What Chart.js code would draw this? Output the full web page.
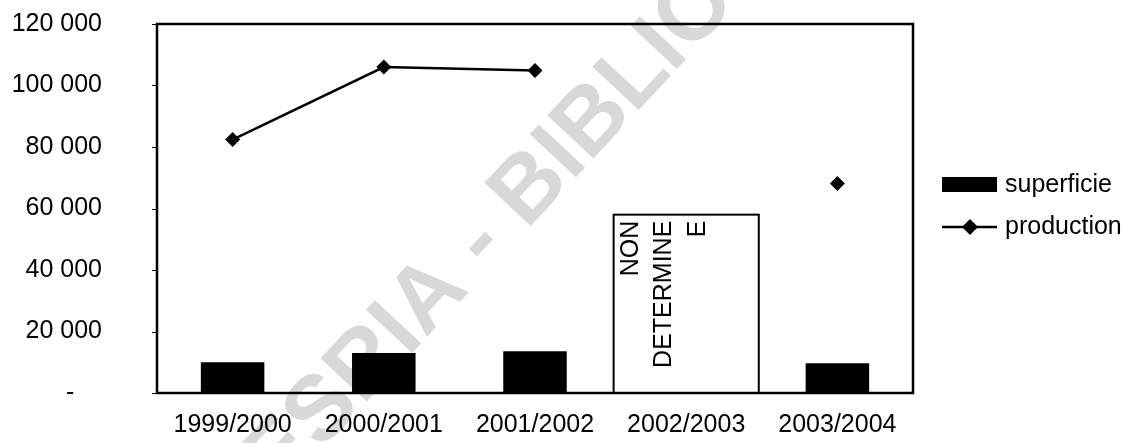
<!DOCTYPE html>
<html>
<head>
<meta charset="utf-8">
<script src="https://cdn.jsdelivr.net/npm/chart.js@4/dist/chart.umd.min.js"></script>
<style>
  html, body { margin: 0; padding: 0; background: #fff; }
  #wrap { width: 1131px; height: 443px; position: relative; }
</style>
</head>
<body>
<div id="wrap"><canvas id="c"></canvas></div>
<script>
// Campagnes agricoles et valeurs par campagne
const campagnes = ['1999/2000', '2000/2001', '2001/2002', '2002/2003', '2003/2004'];
const superficie = [10000, 13000, 13600, null, 9700];
const production = [82400, 106000, 104900, null, 68100];
const yTicks = [0, 20000, 40000, 60000, 80000, 100000, 120000];

// Encadré pour la campagne sans donnée
const noteCampagne = '2002/2003';
const noteLines = ['NON', 'DETERMINE', 'E'];
const noteTop = 58000;

const filigrane = 'CODESRIA - BIBLIOTHEQUE';

const FONT = '"Liberation Sans", Arial, sans-serif';

// format comptable : séparateur d'espace, tiret pour zéro
function fmt(v) {
  if (v === 0) return '-\u00a0\u00a0\u00a0\u00a0';
  return String(v).replace(/\B(?=(\d{3})+(?!\d))/g, ' ');
}

const decor = {
  id: 'decor',
  beforeDraw(chart) {
    const ctx = chart.ctx;
    ctx.save();
    ctx.fillStyle = '#fff';
    ctx.fillRect(0, 0, chart.width, chart.height);
    // filigrane en diagonale
    ctx.font = 'bold 92px ' + FONT;
    ctx.fillStyle = '#d8d8d8';
    ctx.textBaseline = 'middle';
    ctx.textAlign = 'left';
    const dashIdx = filigrane.indexOf('-');
    const before = ctx.measureText(filigrane.slice(0, dashIdx)).width;
    const dashW = ctx.measureText('-').width;
    ctx.translate(480, 243);
    ctx.rotate(-47 * Math.PI / 180);
    ctx.fillText(filigrane, -(before + dashW / 2), 0);
    ctx.restore();
  },
  afterDraw(chart) {
    const ctx = chart.ctx;
    const a = chart.chartArea;
    const xs = chart.scales.x, ys = chart.scales.y;
    ctx.save();
    // cadre de la zone de tracé
    ctx.strokeStyle = '#000';
    ctx.lineWidth = 2.5;
    ctx.strokeRect(a.left, a.top, a.right - a.left, a.bottom - a.top);

    // petites graduations de l'axe vertical
    ctx.lineWidth = 1;
    ys.ticks.forEach(t => {
      const y = Math.round(ys.getPixelForValue(t.value)) + 0.5;
      ctx.beginPath();
      ctx.moveTo(a.left - 5, y);
      ctx.lineTo(a.left, y);
      ctx.stroke();
    });

    // encadré "non déterminée"
    const i = campagnes.indexOf(noteCampagne);
    const cx = xs.getPixelForValue(i);
    const cw = (a.right - a.left) / campagnes.length;
    const bx0 = cx - cw * 0.48, bx1 = cx + cw * 0.48;
    const by0 = ys.getPixelForValue(noteTop);
    ctx.lineWidth = 2;
    ctx.strokeRect(bx0, by0, bx1 - bx0, a.bottom - by0);
    ctx.fillStyle = '#000';
    ctx.font = '25px ' + FONT;
    ctx.textAlign = 'right';
    ctx.textBaseline = 'middle';
    ctx.save();
    ctx.translate(bx0 + 17, by0 + 6);
    ctx.rotate(-Math.PI / 2);
    noteLines.forEach((t, k) => ctx.fillText(t, 0, k * 33.5));
    ctx.restore();

    // légende
    const lx = a.right + 29;
    const ds = chart.data.datasets;
    ctx.fillStyle = '#000';
    ctx.fillRect(lx, 177, 55, 15);
    ctx.textAlign = 'left';
    ctx.font = '25px ' + FONT;
    ctx.fillText(ds[0].label, lx + 63, 185);
    ctx.strokeStyle = '#000';
    ctx.lineWidth = 2.5;
    ctx.beginPath();
    ctx.moveTo(lx, 227);
    ctx.lineTo(lx + 55, 227);
    ctx.stroke();
    const dx = lx + 28, dy = 227, r = 8;
    ctx.beginPath();
    ctx.moveTo(dx, dy - r); ctx.lineTo(dx + r, dy); ctx.lineTo(dx, dy + r); ctx.lineTo(dx - r, dy);
    ctx.closePath();
    ctx.fill();
    ctx.fillText(ds[1].label, lx + 63, 227);
    ctx.restore();
  }
};

new Chart(document.getElementById('c'), {
  type: 'bar',
  data: {
    labels: campagnes,
    datasets: [
      {
        type: 'bar',
        label: 'superficie',
        data: superficie,
        backgroundColor: '#000',
        borderWidth: 0,
        categoryPercentage: 1,
        barPercentage: 0.42,
        order: 2
      },
      {
        type: 'line',
        label: 'production',
        data: production,
        borderColor: '#000',
        backgroundColor: '#000',
        borderWidth: 2.5,
        pointStyle: 'rectRot',
        pointRadius: 7.5,
        pointBorderWidth: 0,
        spanGaps: false,
        tension: 0,
        order: 1
      }
    ]
  },
  options: {
    responsive: true,
    maintainAspectRatio: false,
    animation: false,
    devicePixelRatio: 1,
    layout: { padding: { top: 24, right: 218, left: 0, bottom: 0 } },
    plugins: {
      legend: { display: false },
      tooltip: { enabled: false }
    },
    scales: {
      x: {
        grid: { display: false },
        border: { display: false },
        ticks: {
          color: '#000',
          font: { family: FONT, size: 25 },
          padding: 9,
          maxRotation: 0,
          autoSkip: false
        },
        afterFit(s) { s.height = 50; }
      },
      y: {
        min: 0,
        max: 120000,
        grid: { drawOnChartArea: false, drawTicks: true, tickLength: 50, color: 'rgba(0,0,0,0)' },
        border: { display: false },
        afterBuildTicks(s) { s.ticks = yTicks.map(v => ({ value: v })); },
        ticks: {
          color: '#000',
          font: { family: FONT, size: 25 },
          padding: 5,
          callback: v => fmt(v)
        },
        afterFit(s) { s.width = 157; }
      }
    }
  },
  plugins: [decor]
});
</script>
</body>
</html>
